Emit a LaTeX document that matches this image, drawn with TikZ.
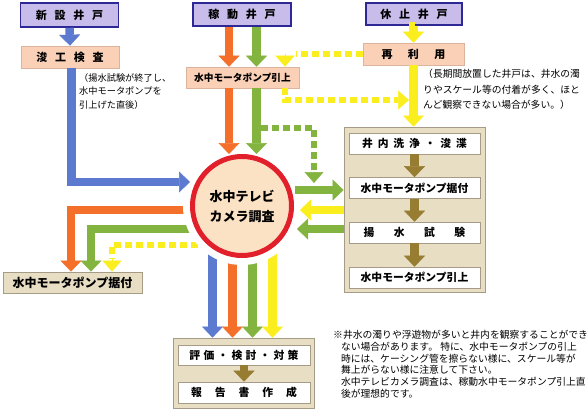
\documentclass[tikz,border=0pt]{standalone}
\usepackage{fontspec}
\setmainfont{Noto Sans CJK JP}
\usetikzlibrary{arrows.meta}
\pgfdeclarelayer{background}
\pgfsetlayers{background,main}
\definecolor{lav}{RGB}{200,188,235}
\definecolor{navyline}{RGB}{45,40,150}
\definecolor{peach}{RGB}{250,208,182}
\definecolor{peachedge}{RGB}{220,180,158}
\definecolor{beige}{RGB}{232,222,196}
\definecolor{beigeedge}{RGB}{165,155,135}
\definecolor{bluea}{RGB}{92,122,208}
\definecolor{orangea}{RGB}{244,112,42}
\definecolor{greena}{RGB}{132,180,64}
\definecolor{yellowa}{RGB}{250,238,30}
\definecolor{olivea}{RGB}{150,125,50}
\definecolor{ringred}{RGB}{226,32,44}
\definecolor{tvfill}{RGB}{252,226,196}
\newcommand\ksp[1]{\hspace{#1em}}
\tikzset{
  wellbox/.style={draw=navyline, line width=1.6pt, fill=lav, minimum width=97pt, minimum height=23pt, inner sep=0pt, font=\bfseries\fontsize{11}{13}\selectfont},
  peachbox/.style={draw=peachedge, line width=0.6pt, fill=peach, minimum height=21pt, inner sep=0pt, font=\bfseries\fontsize{11}{13}\selectfont},
  groupbox/.style={draw=beigeedge, line width=0.8pt, fill=beige, inner sep=0pt},
  whitebox/.style={draw=beigeedge, line width=0.6pt, fill=white, minimum width=131pt, minimum height=21pt, inner sep=0pt, font=\bfseries\fontsize{10.8}{13}\selectfont},
  fat/.style={color=#1, line width=8.5pt, -{Triangle[width=21pt,length=11pt,line width=0.5pt]}},
  dashsq/.style={draw=#1!75!black, double=#1, double distance=5.5pt, line width=0.5pt, dash pattern=on 7pt off 4pt},
  headonly/.style={color=#1, line width=0.5pt, -{Triangle[width=19pt,length=11pt]}},
  notetext/.style={align=left, inner sep=0pt, anchor=north west},
}
\begin{document}
\begin{tikzpicture}[x=1pt, y=-1pt]
  \useasboundingbox (0,0) rectangle (588,417);
  \pgfmathsetmacro{\xora}{229}
  \pgfmathsetmacro{\xgra}{256.5}
  \pgfmathsetmacro{\xyel}{285}
  % wells
  \node[wellbox, minimum width=98pt, minimum height=24pt] (shinsetsu) at (69.5,15) {新\ksp{.7}設\ksp{.7}井\ksp{.7}戸};
  \node[wellbox, minimum width=98pt] (kado) at (242,14.5) {稼\ksp{.7}動\ksp{.7}井\ksp{.7}戸};
  \node[wellbox, minimum width=96pt, minimum height=22pt] (kyushi) at (414,14) {休\ksp{.7}止\ksp{.7}井\ksp{.7}戸};
  \node[peachbox, minimum width=98pt, minimum height=22pt] (shunko) at (70,57) {浚\ksp{.7}工\ksp{.7}検\ksp{.7}査};
  \node[peachbox, minimum width=113pt, font=\bfseries\fontsize{9.7}{12}\selectfont] (hikiage) at (242.5,77.5) {水中モータポンプ引上};
  \node[peachbox, minimum width=101pt, minimum height=22pt] (sairiyo) at (413.5,54) {再\ksp{1.4}利\ksp{1.4}用};
  % camera survey
  \coordinate (tvc) at (242,206);
  \node[circle, draw=ringred, line width=5pt, fill=tvfill, minimum size=99pt, inner sep=0pt, align=center, font=\bfseries\fontsize{13}{20}\selectfont] (tvcam) at (tvc) {水中テレビ\\カメラ調査};
  % right group
  \node[groupbox, minimum width=141pt, minimum height=165pt] (grpR) at (414.5,209.5) {};
  \node[whitebox] (senjo) at (414.5,143.5) {井\ksp{.45}内\ksp{.45}洗\ksp{.45}浄\ksp{.45}・\ksp{.45}浚\ksp{.45}渫};
  \node[whitebox] (suetsukeR) at (414.5,188) {水中モータポンプ据付};
  \node[whitebox] (yosui) at (414.5,232.5) {揚\ksp{1.8}水\ksp{1.8}試\ksp{1.8}験};
  \node[whitebox] (hikiageR) at (414.5,277.5) {水中モータポンプ引上};
  % left and bottom
  \node[groupbox, minimum width=139pt, minimum height=21pt, font=\bfseries\fontsize{12}{14}\selectfont] (suetsukeL) at (72.5,282.5) {水中モータポンプ据付};
  \node[groupbox, minimum width=141pt, minimum height=70pt] (grpB) at (243.5,373) {};
  \node[whitebox, minimum width=132pt, minimum height=20pt] (hyoka) at (244,355) {評\ksp{.3}価\ksp{.3}・\ksp{.3}検\ksp{.3}討\ksp{.3}・\ksp{.3}対\ksp{.3}策};
  \node[whitebox, minimum width=132pt] (hokoku) at (244,392.5) {報\ksp{1.2}告\ksp{1.2}書\ksp{1.2}作\ksp{1.2}成};
  % notes
  \node[notetext, font=\fontsize{9.2}{13.5}\selectfont] (noteL) at (79,73) {（揚水試験が終了し、\\水中モータポンプを\\引上げた直後）};
  \node[notetext, font=\fontsize{9.8}{15.5}\selectfont] (noteR) at (423,69) {（長期間放置した井戸は、井水の濁\\りやスケール等の付着が多く、ほと\\んど観察できない場合が多い。）};
  \node[notetext, font=\fontsize{9.8}{11.8}\selectfont] (noteB) at (333,330) {※井水の濁りや浮遊物が多いと井内を観察することができ\\
    \hspace*{0.8em}ない場合があります。 特に、水中モータポンプの引上\\
    \hspace*{0.8em}時には、ケーシング管を擦らない様に、スケール等が\\
    \hspace*{0.8em}舞上がらない様に注意して下さい。\\
    \hspace*{0.8em}水中テレビカメラ調査は、稼動水中モータポンプ引上直\\
    \hspace*{0.8em}後が理想的です。};
  % free ends near the circle
  \coordinate (inGR) at (295,190);
  \coordinate (inY) at (300,210);
  \coordinate (inGL) at (297,229);
  \coordinate (ydrop) at (409,100);
  % connectors
  \draw[fat=bluea] (shinsetsu.south) -- (shunko.north);
  \draw[fat=bluea] (shunko.south -| 71.5,0) |- (tvcam.west |- 0,182);
  \draw[fat=orangea] (kado.south -| \xora,0) -- (hikiage.north -| \xora,0);
  \draw[fat=greena] (kado.south -| \xgra,0) -- (hikiage.north -| \xgra,0);
  \draw[fat=orangea] (hikiage.south -| \xora,0) -- (tvcam.north -| \xora,0);
  \draw[fat=greena] (hikiage.south -| \xgra,0) -- (tvcam.north -| \xgra,0);
  \draw[dashsq=yellowa] (sairiyo.west) -- (296,54);
  \draw[headonly=yellowa] (\xyel,54) -- (hikiage.north -| \xyel,0);
  \draw[dashsq=yellowa] (hikiage.south -| \xyel,0) |- (398,100);
  \draw[headonly=yellowa] (397,100) -- (ydrop);
  \draw[fat=yellowa] (kyushi.south) -- (sairiyo.south |- kyushi.south) -- (sairiyo.north);
  \draw[fat=yellowa] (sairiyo.south) -- (sairiyo.south |- grpR.north);
  \draw[dashsq=greena] (261,128) -| (314,172);
  \draw[headonly=greena] (314,172) -- (314,183);
  \draw[fat=greena] (inGR) -- (grpR.west |- inGR);
  \draw[fat=yellowa] (grpR.west |- inY) -- (inY);
  \draw[fat=greena] (grpR.west |- inGL) -- (inGL);
  \foreach \a/\b in {senjo/suetsukeR, suetsukeR/yosui, yosui/hikiageR, hyoka/hokoku}
    \draw[fat=olivea] (\a.south) -- (\b.north);
  \begin{pgfonlayer}{background}
    \draw[fat=orangea] (tvc |- 0,210) -| (suetsukeL.north -| 71,0);
    \draw[fat=greena] (tvc |- 0,229) -| (suetsukeL.north -| 91,0);
    \draw[dashsq=yellowa] (tvc |- 0,245) -| (112,259);
    \draw[headonly=yellowa] (112,259) -- (suetsukeL.north -| 112,0);
    \foreach \x/\c in {212.5/bluea, 232.5/orangea, 252.5/greena, 272.5/yellowa}
      \draw[fat=\c] (tvc -| \x,0) -- (grpB.north -| \x,0);
    \fill[white] (tvc) circle[radius=59];
  \end{pgfonlayer}
\end{tikzpicture}
\end{document}
